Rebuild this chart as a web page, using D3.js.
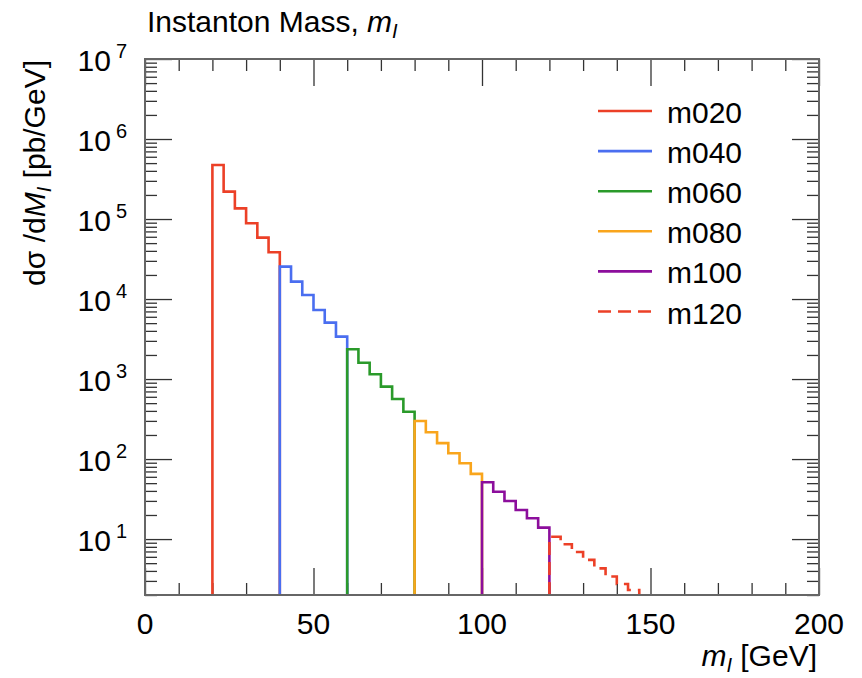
<!DOCTYPE html>
<html><head><meta charset="utf-8">
<script src="https://cdn.jsdelivr.net/npm/d3@7"></script>
<style>body{margin:0;background:#fff}svg{display:block;font-family:"Liberation Sans",Arial,Helvetica,sans-serif}</style>
</head><body><svg id="c" width="862" height="678"></svg>
<script>
// ---- data ----
const seriesNames = ["m020","m040","m060","m080","m100","m120"];
const seriesStart = [20, 40, 60, 80, 100, 120];
const binWidth = 10/3;
const m020 = [4.74e5, 2.20e5, 1.36e5, 8.86e4, 5.85e4, 3.85e4];
const m040 = [2.54e4, 1.65e4, 1.125e4, 7.3e3, 5.07e3, 3.39e3];
const m060 = [2.36e3, 1.60e3, 1.15e3, 804, 564, 391];
const m080 = [299, 216, 158, 118, 88.6, 65.2];
const m100 = [51.3, 39.1, 29.9, 23.1, 18.2, 13.9];
const m120 = [10.7, 8.6, 6.9, 5.5, 4.3, 3.4, 2.75, 2.31];
const seriesColors = ["#ec4027", "#4a6ef0", "#2a9a2a", "#f9a51c", "#8c0e9c", "#ec4027"];
const seriesDash = [null, null, null, null, null, "13,7"];
const xTicks = [0, 50, 100, 150, 200];
const yDecades = [1, 2, 3, 4, 5, 6, 7];
const xDomain = [0, 200];
const yDomain = [2, 1e7];

const values = [m020, m040, m060, m080, m100, m120];

// ---- layout ----
const L = 145, R = 819, T = 59, B = 595;
const svg = d3.select("#c");
const x = d3.scaleLinear().domain(xDomain).range([L, R]);
const y = d3.scaleLog().domain(yDomain).range([B, T]);

const majLen = 27, minLen = 12;
const xMinor = d3.range(0, 201, 10).filter(v => v % 50 !== 0);
const yMajor = yDecades.map(e => Math.pow(10, e));
const yMinor = [];
for (let e = 0; e <= 6; e++) for (let k = 2; k <= 9; k++) { const v = k * Math.pow(10, e); if (v >= yDomain[0] && v <= yDomain[1]) yMinor.push(v); }

function tickGroup(axisFn, scale, vals, len, transform) {
  const g = svg.append("g").attr("transform", transform)
    .call(axisFn(scale).tickValues(vals).tickSize(-len).tickSizeOuter(0).tickFormat(""));
  g.select(".domain").remove();
  g.selectAll("line").attr("stroke", "#333").attr("stroke-width", 1.3);
  return g;
}
tickGroup(d3.axisBottom, x, xTicks, majLen, `translate(0,${B})`);
tickGroup(d3.axisBottom, x, xMinor, minLen, `translate(0,${B})`);
tickGroup(d3.axisTop, x, xTicks, majLen, `translate(0,${T})`);
tickGroup(d3.axisTop, x, xMinor, minLen, `translate(0,${T})`);
tickGroup(d3.axisLeft, y, yMajor, majLen, `translate(${L},0)`);
tickGroup(d3.axisLeft, y, yMinor, minLen, `translate(${L},0)`);
tickGroup(d3.axisRight, y, yMajor, majLen, `translate(${R},0)`);
tickGroup(d3.axisRight, y, yMinor, minLen, `translate(${R},0)`);

// ---- histograms ----
const line = d3.line().x(d => x(d[0])).y(d => y(d[1]));
values.forEach((vals, i) => {
  const x0 = seriesStart[i];
  const pts = [[x0, yDomain[0]]];
  vals.forEach((v, j) => {
    pts.push([x0 + j * binWidth, v]);
    pts.push([x0 + (j + 1) * binWidth, v]);
  });
  pts.push([x0 + vals.length * binWidth, yDomain[0]]);
  svg.append("path").attr("d", line(pts)).attr("fill", "none")
    .attr("stroke", seriesColors[i]).attr("stroke-width", 2.6)
    .attr("stroke-dasharray", seriesDash[i]);
});

// ---- frame ----
svg.append("rect").attr("x", L).attr("y", T).attr("width", R - L).attr("height", B - T)
  .attr("fill", "none").attr("stroke", "#666").attr("stroke-width", 2);

// ---- tick labels ----
svg.append("g").selectAll("text").data(xTicks).join("text")
  .attr("x", d => x(d)).attr("y", 634).attr("text-anchor", "middle")
  .attr("font-size", 30).text(d => d);
const yl = svg.append("g").selectAll("text").data(yDecades).join("text")
  .attr("x", 127).attr("y", d => y(Math.pow(10, d)) + 12).attr("text-anchor", "end")
  .attr("font-size", 30);
yl.append("tspan").text("10");
yl.append("tspan").attr("dx", 5).attr("dy", -13).attr("font-size", 20).text(d => d);

// ---- titles ----
const tt = svg.append("text").attr("x", 147).attr("y", 32).attr("font-size", 30);
tt.append("tspan").text("Instanton Mass, ");
tt.append("tspan").attr("font-style", "italic").text("m");
tt.append("tspan").attr("font-style", "italic").attr("font-size", 20).attr("dy", 6).text("I");

const xt = svg.append("text").attr("x", 817).attr("y", 666).attr("text-anchor", "end").attr("font-size", 30);
xt.append("tspan").attr("font-style", "italic").text("m");
xt.append("tspan").attr("font-style", "italic").attr("font-size", 20).attr("dy", 6).text("I");
xt.append("tspan").attr("dy", -6).text(" [GeV]");

const ytl = svg.append("text").attr("transform", "translate(45,60) rotate(-90)")
  .attr("text-anchor", "end").attr("font-size", 30);
ytl.append("tspan").text("dσ /d");
ytl.append("tspan").attr("font-style", "italic").text("M");
ytl.append("tspan").attr("font-style", "italic").attr("font-size", 20).attr("dy", 6).text("I");
ytl.append("tspan").attr("dy", -6).text(" [pb/GeV]");

// ---- legend ----
const lg = svg.append("g");
seriesNames.forEach((n, i) => {
  const ly = 111 + i * 40.1;
  lg.append("line").attr("x1", 598).attr("x2", 652).attr("y1", ly).attr("y2", ly)
    .attr("stroke", seriesColors[i]).attr("stroke-width", 2.6).attr("stroke-dasharray", seriesDash[i]);
  lg.append("text").attr("x", 667).attr("y", ly + 12).attr("font-size", 30).text(n);
});
</script></body></html>
